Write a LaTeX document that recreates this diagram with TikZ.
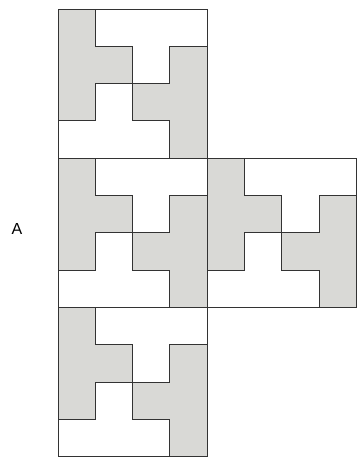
\documentclass[tikz,border=0pt]{standalone}
\usepackage{fontspec}
\setmainfont{Liberation Sans}
\definecolor{tilegray}{RGB}{217,217,214}
\tikzset{
  edge/.style={draw=black!80, line width=1pt, line join=miter},
  grayT/.style={edge, fill=tilegray},
  whiteT/.style={edge, fill=white},
}

\begin{document}
\begin{tikzpicture}[x=1pt, y=-1pt]
  % frame with the reference margins
  \useasboundingbox (0,0) rectangle (359,458);
  % label on the left
  \node[font=\fontsize{16}{16}\selectfont] (labA) at (17,229) {A};
  % four squares, each tiled by four T pieces
  \foreach \sx/\sy in {0/0, 0/4, 4/4, 0/8} {
    \begin{scope}[shift={(58,9)}, x=37.3pt, y=-37.3pt, shift={(\sx,\sy)}]
      % left gray T
      \draw[grayT] (0,0) -- (1,0) -- (1,1) -- (2,1) -- (2,2) -- (1,2) -- (1,3) -- (0,3) -- cycle;
      % top white T
      \draw[whiteT] (1,0) -- (4,0) -- (4,1) -- (3,1) -- (3,2) -- (2,2) -- (2,1) -- (1,1) -- cycle;
      % right gray T
      \draw[grayT] (3,1) -- (4,1) -- (4,4) -- (3,4) -- (3,3) -- (2,3) -- (2,2) -- (3,2) -- cycle;
      % bottom white T
      \draw[whiteT] (0,3) -- (1,3) -- (1,2) -- (2,2) -- (2,3) -- (3,3) -- (3,4) -- (0,4) -- cycle;
      % square outline
      \draw[edge] (0,0) rectangle (4,4);
    \end{scope}
  }
\end{tikzpicture}
\end{document}
